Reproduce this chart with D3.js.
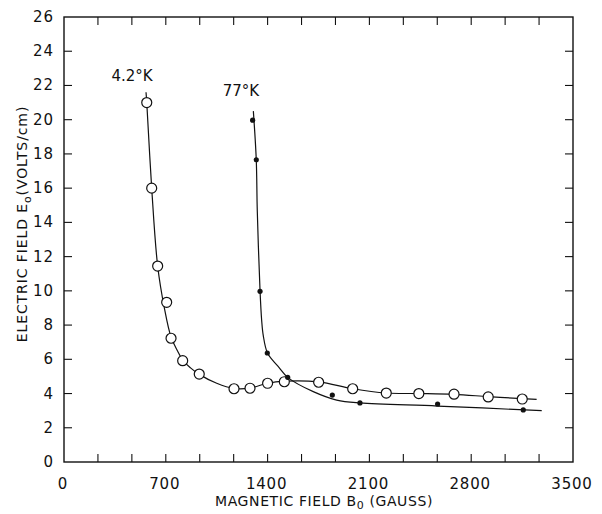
<!DOCTYPE html>
<html>
<head>
<meta charset="utf-8">
<script src="https://cdn.jsdelivr.net/npm/d3@7"></script>
<style>
  body { margin: 0; background: #fff; }
  svg { font-family: "DejaVu Sans", "Liberation Sans", sans-serif; }
  .lbl { font-size: 15px; fill: #111; }
</style>
</head>
<body>
<svg id="chart" width="602" height="514"></svg>
<script>
// measured points, 4.2 K (open circles)
const coldB = [569, 603, 644, 706, 736, 816, 930, 1169, 1279, 1400, 1515, 1751, 1985, 2216, 2440, 2682, 2917, 3151];
const coldE = [21.0, 16.0, 11.45, 9.33, 7.23, 5.92, 5.14, 4.28, 4.31, 4.6, 4.69, 4.66, 4.28, 4.03, 4.0, 3.96, 3.8, 3.68];

// measured points, 77 K (filled dots)
const warmB = [1297, 1322, 1348, 1398, 1538, 1845, 2035, 2569, 3158];
const warmE = [19.97, 17.66, 9.97, 6.37, 4.95, 3.91, 3.45, 3.39, 3.04];

// hand drawn smooth curves
const coldCurveB = [564, 569, 603, 644, 690, 736, 780, 816, 870, 930, 1050, 1169, 1279, 1400, 1515, 1751, 1985, 2216, 2440, 2682, 2917, 3151, 3250];
const coldCurveE = [21.6, 21.0, 16.0, 11.45, 9.0, 7.3, 6.5, 5.95, 5.5, 5.12, 4.6, 4.3, 4.32, 4.6, 4.72, 4.68, 4.28, 4.03, 4.0, 3.95, 3.82, 3.7, 3.66];
const warmCurveB = [1302, 1322, 1329, 1348, 1359, 1370, 1400, 1471, 1540, 1714, 1875, 2035, 2569, 3285];
const warmCurveE = [20.5, 17.66, 14.7, 10.0, 8.3, 7.4, 6.35, 5.6, 4.93, 4.11, 3.62, 3.45, 3.27, 3.0];

const xTickLabels = [0, 700, 1400, 2100, 2800, 3500];
const yTickLabels = [0, 2, 4, 6, 8, 10, 12, 14, 16, 18, 20, 22, 24, 26];

const svg = d3.select("#chart");
const padL = 64, padR = 573, padT = 17, padB = 462;

const x = d3.scaleLinear().domain([0, 3500]).range([padL, padR]);
const y = d3.scaleLinear().domain([0, 26]).range([padB, padT]);

// minor ticks every 700/3 gauss
const xMinor = d3.range(1, 15).map(i => i * 3500 / 15);
const yMinor = d3.range(1, 13).map(i => i * 2);

const g = svg.append("g");

// frame
g.append("rect")
    .attr("x", padL).attr("y", padT)
    .attr("width", padR - padL).attr("height", padB - padT)
    .attr("fill", "none").attr("stroke", "#111").attr("stroke-width", 1.4);

// inward ticks on all four sides
const tl = 8;
g.selectAll(".xb").data(xMinor).enter().append("line")
    .attr("x1", d => x(d)).attr("x2", d => x(d))
    .attr("y1", padB).attr("y2", padB - tl)
    .attr("stroke", "#111").attr("stroke-width", 1.1);
g.selectAll(".xt").data(xMinor).enter().append("line")
    .attr("x1", d => x(d)).attr("x2", d => x(d))
    .attr("y1", padT).attr("y2", padT + tl)
    .attr("stroke", "#111").attr("stroke-width", 1.1);
g.selectAll(".yl").data(yMinor).enter().append("line")
    .attr("x1", padL).attr("x2", padL + tl)
    .attr("y1", d => y(d)).attr("y2", d => y(d))
    .attr("stroke", "#111").attr("stroke-width", 1.1);
g.selectAll(".yr").data(yMinor).enter().append("line")
    .attr("x1", padR).attr("x2", padR - tl)
    .attr("y1", d => y(d)).attr("y2", d => y(d))
    .attr("stroke", "#111").attr("stroke-width", 1.1);

// tick labels
g.selectAll(".xlab").data(xTickLabels).enter().append("text")
    .attr("class", "lbl")
    .attr("x", d => x(d) - 1).attr("y", 489)
    .attr("text-anchor", "middle")
    .style("letter-spacing", "0.8px")
    .text(d => d);
g.selectAll(".ylab").data(yTickLabels).enter().append("text")
    .attr("class", "lbl")
    .attr("x", 54).attr("y", d => y(d) + 5)
    .attr("text-anchor", "end")
    .style("letter-spacing", "1px")
    .text(d => d);

// axis titles
const xt = g.append("text").attr("class", "lbl")
    .attr("x", 324).attr("y", 506).attr("text-anchor", "middle")
    .style("font-size", "14px").style("letter-spacing", "0.6px");
xt.append("tspan").text("MAGNETIC FIELD B");
xt.append("tspan").attr("dy", 3).style("font-size", "11px").text("0");
xt.append("tspan").attr("dy", -3).text(" (GAUSS)");

const yt = g.append("text").attr("class", "lbl")
    .attr("transform", "translate(27,224) rotate(-90)")
    .attr("text-anchor", "middle")
    .style("font-size", "14px").style("letter-spacing", "0.9px");
yt.append("tspan").text("ELECTRIC FIELD E");
yt.append("tspan").attr("dy", 4).style("font-size", "11px").text("o");
yt.append("tspan").attr("dy", -4).text("(VOLTS/cm)");

// curves
const line = d3.line()
    .x(d => x(d[0])).y(d => y(d[1]))
    .curve(d3.curveCatmullRom.alpha(0.5));

g.append("path")
    .datum(d3.zip(coldCurveB, coldCurveE))
    .attr("d", line)
    .attr("fill", "none").attr("stroke", "#111").attr("stroke-width", 1.2);
g.append("path")
    .datum(d3.zip(warmCurveB, warmCurveE))
    .attr("d", line)
    .attr("fill", "none").attr("stroke", "#111").attr("stroke-width", 1.2);

// markers
g.selectAll(".cold").data(d3.zip(coldB, coldE)).enter().append("circle")
    .attr("cx", d => x(d[0])).attr("cy", d => y(d[1]))
    .attr("r", 5)
    .attr("fill", "#fff").attr("stroke", "#111").attr("stroke-width", 1.2);
g.selectAll(".warm").data(d3.zip(warmB, warmE)).enter().append("circle")
    .attr("cx", d => x(d[0])).attr("cy", d => y(d[1]))
    .attr("r", 2.6)
    .attr("fill", "#111");

// curve labels
g.append("text").attr("class", "lbl")
    .attr("x", 132).attr("y", 81).attr("text-anchor", "middle")
    .text("4.2°K");
g.append("text").attr("class", "lbl")
    .attr("x", 241).attr("y", 96).attr("text-anchor", "middle")
    .text("77°K");
</script>
</body>
</html>
